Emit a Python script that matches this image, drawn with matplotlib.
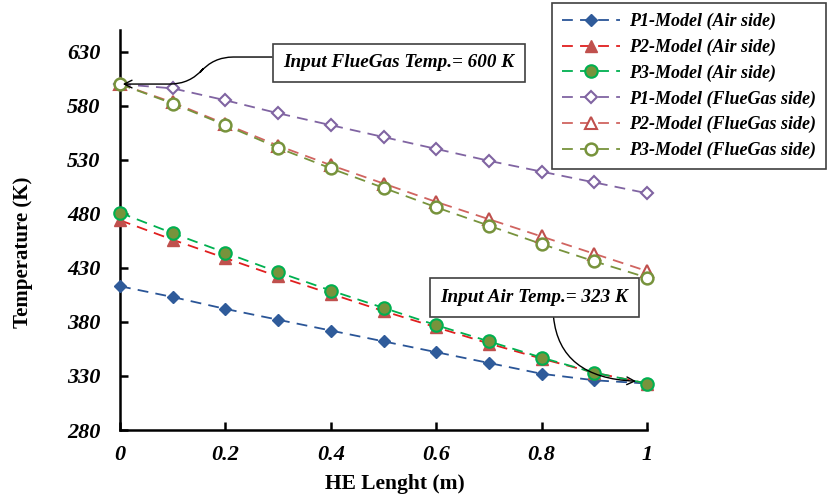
import matplotlib
matplotlib.use("Agg")
import matplotlib.pyplot as plt

x = [0, 0.1, 0.2, 0.3, 0.4, 0.5, 0.6, 0.7, 0.8, 0.9, 1.0]
p1_air = [413, 403, 392, 382, 372, 362, 352, 342, 332, 326, 323]
p2_air = [474, 456, 439, 422, 406, 390, 375, 360, 346, 333, 323]
p3_air = [481, 462, 444, 426, 409, 393, 377, 362, 347, 333, 323]
p1_flue = [600, 596, 585, 573, 562, 551, 540, 529, 519, 509, 499]
p2_flue = [600, 583, 563, 543, 525, 508, 491, 475, 459, 443, 427]
p3_flue = [600, 582, 562, 541, 522, 504, 486, 469, 452, 436, 421]

labels = ["P1-Model (Air side)", "P2-Model (Air side)", "P3-Model (Air side)",
          "P1-Model (FlueGas side)", "P2-Model (FlueGas side)", "P3-Model (FlueGas side)"]
xticks = [0, 0.2, 0.4, 0.6, 0.8, 1]
xticklabels = ["0", "0.2", "0.4", "0.6", "0.8", "1"]
yticks = [280, 330, 380, 430, 480, 530, 580, 630]

plt.rcParams['font.family'] = ['Liberation Serif', 'DejaVu Serif']

fig = plt.figure(figsize=(8.29, 5.0), dpi=100)
ax = fig.add_axes([120/829, 1-430/500, (647-120)/829, 400/500])

dash = (6, 4)
styles = [
    dict(color="#2A5597", marker="D", ms=6, mfc="#2F5B9A", mec="#2F5B9A"),
    dict(color="#E01F1F", marker="^", ms=8, mfc="#C0504D", mec="#C0504D"),
    dict(color="#00B050", marker="o", ms=9, mfc="#77933C", mec="#00B050", mew=1.5),
    dict(color="#8064A2", marker="D", ms=6.5, mfc="white", mec="#8064A2", mew=1.5),
    dict(color="#D06460", marker="^", ms=8, mfc="white", mec="#C0504D", mew=1.5),
    dict(color="#77933C", marker="o", ms=8.5, mfc="white", mec="#77933C", mew=1.8),
]
series = [p1_air, p2_air, p3_air, p1_flue, p2_flue, p3_flue]
for ys, lab, st in zip(series, labels, styles):
    ax.plot(x, ys, linestyle=(0, dash), lw=1.3, label=lab, clip_on=False, zorder=3, **st)

ax.set_xlim(0, 1)
ax.set_ylim(280, 650)
ax.set_xticks(xticks)
ax.set_xticklabels(xticklabels)
ax.set_yticks(yticks)
for s in ["top", "right"]:
    ax.spines[s].set_visible(False)
for s in ["left", "bottom"]:
    ax.spines[s].set_linewidth(1.8)
ax.tick_params(direction="in", length=6, width=1.8, labelsize=16)
ax.tick_params(axis="y", pad=14)
ax.tick_params(axis="x", pad=11)
for t in ax.get_xticklabels() + ax.get_yticklabels():
    t.set_fontweight("bold")
    t.set_fontstyle("italic")

ax.set_xlabel("HE Lenght (m)", fontsize=15.5, fontweight="bold")
ax.set_ylabel("Temperature (K)", fontsize=15, fontweight="bold")
ax.xaxis.set_label_coords((395-120)/527, -(474-430)/400)
ax.yaxis.set_label_coords(-(120-33)/527, (430-252)/400)

bbox = dict(boxstyle="square,pad=0.55", fc="white", ec="#404040", lw=1.2)
ax.annotate("Input FlueGas Temp.= 600 K", xy=(0, 600), xytext=(0.529, 619.5),
            ha="center", va="center", fontsize=13.8, fontweight="bold", fontstyle="italic",
            bbox=bbox,
            arrowprops=dict(arrowstyle="->", color="black", lw=1.0, relpos=(0, 0.85),
                            shrinkA=0, shrinkB=2,
                            connectionstyle="arc,angleA=180,armA=70,angleB=0,armB=70,rad=20"))
ax.annotate("Input Air Temp.= 323 K", xy=(0.995, 325), xytext=(0.786, 402.6),
            ha="center", va="center", fontsize=13.8, fontweight="bold", fontstyle="italic",
            bbox=bbox,
            arrowprops=dict(arrowstyle="->", color="black", lw=1.0, relpos=(0.6, 0),
                            shrinkA=0, shrinkB=6,
                            connectionstyle="angle3,angleA=-90,angleB=0"))

leg = fig.legend(loc="upper right", bbox_to_anchor=(826/829, 1-3/500), ncol=1,
                 prop=dict(family="Liberation Serif", weight="bold", style="italic", size=13),
                 frameon=True, fancybox=False, edgecolor="#404040", framealpha=1,
                 handlelength=3.2, labelspacing=0.47, borderpad=0.55, handletextpad=0.5,
                 borderaxespad=0)
leg.get_frame().set_linewidth(1.2)

fig.savefig("out.png", dpi=100)
